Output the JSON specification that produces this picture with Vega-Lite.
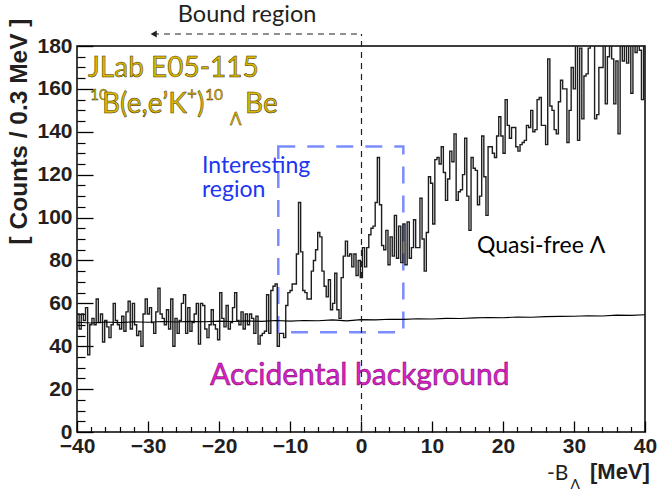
{
"$schema": "https://vega.github.io/schema/vega-lite/v6.json",
"width": 568, "height": 386,
"autosize": {"type": "none"},
"padding": {"left": 77, "top": 46, "right": 13, "bottom": 58},
"background": "white",
"config": {"view": {"stroke": "#000", "strokeWidth": 1.5}, "axis": {"grid": false}},
"datasets": {
"hist": [
{"x":-40,"c":55},{"x":-39.7,"c":48},{"x":-39.4,"c":55},{"x":-39.1,"c":52},{"x":-38.8,"c":58},{"x":-38.5,"c":36},{"x":-38.2,"c":50},{"x":-37.9,"c":53},{"x":-37.6,"c":50},{"x":-37.3,"c":62},
{"x":-37,"c":51},{"x":-36.7,"c":55},{"x":-36.4,"c":42},{"x":-36.1,"c":52},{"x":-35.8,"c":49},{"x":-35.5,"c":44},{"x":-35.2,"c":50},{"x":-34.9,"c":60},{"x":-34.6,"c":52},{"x":-34.3,"c":50},
{"x":-34,"c":48},{"x":-33.7,"c":54},{"x":-33.4,"c":47},{"x":-33.1,"c":56},{"x":-32.8,"c":61},{"x":-32.5,"c":48},{"x":-32.2,"c":60},{"x":-31.9,"c":50},{"x":-31.6,"c":45},{"x":-31.3,"c":47},
{"x":-31,"c":40},{"x":-30.7,"c":55},{"x":-30.4,"c":62},{"x":-30.1,"c":55},{"x":-29.8,"c":58},{"x":-29.5,"c":51},{"x":-29.2,"c":46},{"x":-28.9,"c":56},{"x":-28.6,"c":67},{"x":-28.3,"c":55},
{"x":-28,"c":53},{"x":-27.7,"c":50},{"x":-27.4,"c":57},{"x":-27.1,"c":48},{"x":-26.8,"c":62},{"x":-26.5,"c":40},{"x":-26.2,"c":53},{"x":-25.9,"c":46},{"x":-25.6,"c":52},{"x":-25.3,"c":60},
{"x":-25,"c":64},{"x":-24.7,"c":46},{"x":-24.4,"c":58},{"x":-24.1,"c":47},{"x":-23.8,"c":51},{"x":-23.5,"c":55},{"x":-23.2,"c":60},{"x":-22.9,"c":41},{"x":-22.6,"c":60},{"x":-22.3,"c":59},
{"x":-22,"c":48},{"x":-21.7,"c":44},{"x":-21.4,"c":50},{"x":-21.1,"c":57},{"x":-20.8,"c":50},{"x":-20.5,"c":48},{"x":-20.2,"c":43},{"x":-19.9,"c":65},{"x":-19.6,"c":53},{"x":-19.3,"c":49},
{"x":-19,"c":59},{"x":-18.7,"c":48},{"x":-18.4,"c":51},{"x":-18.1,"c":58},{"x":-17.8,"c":65},{"x":-17.5,"c":52},{"x":-17.2,"c":50},{"x":-16.9,"c":56},{"x":-16.6,"c":48},{"x":-16.3,"c":55},
{"x":-16,"c":50},{"x":-15.7,"c":55},{"x":-15.4,"c":53},{"x":-15.1,"c":46},{"x":-14.8,"c":54},{"x":-14.5,"c":41},{"x":-14.2,"c":45},{"x":-13.9,"c":46},{"x":-13.6,"c":47},{"x":-13.3,"c":64},
{"x":-13,"c":46},{"x":-12.7,"c":66},{"x":-12.4,"c":68},{"x":-12.1,"c":69},{"x":-11.8,"c":40},{"x":-11.5,"c":46},{"x":-11.2,"c":46},{"x":-10.9,"c":44},{"x":-10.6,"c":59},{"x":-10.3,"c":65},
{"x":-10,"c":66},{"x":-9.7,"c":69},{"x":-9.4,"c":69},{"x":-9.1,"c":83},{"x":-8.8,"c":107},{"x":-8.5,"c":84},{"x":-8.2,"c":66},{"x":-7.9,"c":65},{"x":-7.6,"c":62},{"x":-7.3,"c":62},
{"x":-7,"c":75},{"x":-6.7,"c":80},{"x":-6.4,"c":85},{"x":-6.1,"c":93},{"x":-5.8,"c":91},{"x":-5.5,"c":75},{"x":-5.2,"c":68},{"x":-4.9,"c":63},{"x":-4.6,"c":71},{"x":-4.3,"c":57},
{"x":-4,"c":60},{"x":-3.7,"c":74},{"x":-3.4,"c":57},{"x":-3.1,"c":53},{"x":-2.8,"c":72},{"x":-2.5,"c":82},{"x":-2.2,"c":89},{"x":-1.9,"c":82},{"x":-1.6,"c":83},{"x":-1.3,"c":77},
{"x":-1,"c":83},{"x":-0.7,"c":73},{"x":-0.4,"c":80},{"x":-0.1,"c":72},{"x":0.2,"c":86},{"x":0.5,"c":77},{"x":0.8,"c":86},{"x":1.1,"c":92},{"x":1.4,"c":95},{"x":1.7,"c":96},
{"x":2,"c":107},{"x":2.3,"c":128},{"x":2.6,"c":106},{"x":2.9,"c":87},{"x":3.2,"c":85},{"x":3.5,"c":94},{"x":3.8,"c":78},{"x":4.1,"c":91},{"x":4.4,"c":82},{"x":4.7,"c":101},
{"x":5,"c":81},{"x":5.3,"c":96},{"x":5.6,"c":79},{"x":5.9,"c":97},{"x":6.2,"c":78},{"x":6.5,"c":98},{"x":6.8,"c":81},{"x":7.1,"c":86},{"x":7.4,"c":99},{"x":7.7,"c":86},
{"x":8,"c":86},{"x":8.3,"c":109},{"x":8.6,"c":90},{"x":8.9,"c":75},{"x":9.2,"c":93},{"x":9.5,"c":119},{"x":9.8,"c":116},{"x":10.1,"c":97},{"x":10.4,"c":127},{"x":10.7,"c":128},
{"x":11,"c":125},{"x":11.3,"c":133},{"x":11.6,"c":121},{"x":11.9,"c":108},{"x":12.2,"c":118},{"x":12.5,"c":131},{"x":12.8,"c":126},{"x":13.1,"c":139},{"x":13.4,"c":108},{"x":13.7,"c":112},
{"x":14,"c":113},{"x":14.3,"c":120},{"x":14.6,"c":137},{"x":14.9,"c":110},{"x":15.2,"c":94},{"x":15.5,"c":128},{"x":15.8,"c":123},{"x":16.1,"c":122},{"x":16.4,"c":106},{"x":16.7,"c":110},
{"x":17,"c":138},{"x":17.3,"c":119},{"x":17.6,"c":101},{"x":17.9,"c":133},{"x":18.2,"c":133},{"x":18.5,"c":130},{"x":18.8,"c":128},{"x":19.1,"c":138},{"x":19.4,"c":147},{"x":19.7,"c":138},
{"x":20,"c":130},{"x":20.3,"c":155},{"x":20.6,"c":143},{"x":20.9,"c":137},{"x":21.2,"c":142},{"x":21.5,"c":142},{"x":21.8,"c":133},{"x":22.1,"c":131},{"x":22.4,"c":134},{"x":22.7,"c":135},
{"x":23,"c":136},{"x":23.3,"c":143},{"x":23.6,"c":142},{"x":23.9,"c":150},{"x":24.2,"c":140},{"x":24.5,"c":141},{"x":24.8,"c":155},{"x":25.1,"c":156},{"x":25.4,"c":143},{"x":25.7,"c":143},
{"x":26,"c":134},{"x":26.3,"c":174},{"x":26.6,"c":152},{"x":26.9,"c":150},{"x":27.2,"c":141},{"x":27.5,"c":139},{"x":27.8,"c":154},{"x":28.1,"c":164},{"x":28.4,"c":160},{"x":28.7,"c":160},
{"x":29,"c":135},{"x":29.3,"c":150},{"x":29.6,"c":170},{"x":29.9,"c":160},{"x":30.2,"c":190},{"x":30.5,"c":136},{"x":30.8,"c":179},{"x":31.1,"c":146},{"x":31.4,"c":166},{"x":31.7,"c":167},
{"x":32,"c":179},{"x":32.3,"c":190},{"x":32.6,"c":185},{"x":32.9,"c":146},{"x":33.2,"c":148},{"x":33.5,"c":170},{"x":33.8,"c":170},{"x":34.1,"c":190},{"x":34.4,"c":153},{"x":34.7,"c":175},
{"x":35,"c":190},{"x":35.3,"c":174},{"x":35.6,"c":153},{"x":35.9,"c":173},{"x":36.2,"c":139},{"x":36.5,"c":190},{"x":36.8,"c":173},{"x":37.1,"c":190},{"x":37.4,"c":172},{"x":37.7,"c":190},
{"x":38,"c":158},{"x":38.3,"c":190},{"x":38.6,"c":177},{"x":38.9,"c":190},{"x":39.2,"c":178},{"x":39.5,"c":155},{"x":39.8,"c":190},{"x":40.1,"c":190}
],
"bg": [
{"x":-40,"v":51.2},{"x":-38,"v":50.8},{"x":-36,"v":51.3},{"x":-34,"v":51.0},{"x":-32,"v":51.4},{"x":-30,"v":51.2},{"x":-28,"v":51.5},{"x":-26,"v":51.3},{"x":-24,"v":51.6},{"x":-22,"v":51.4},
{"x":-20,"v":51.7},{"x":-18,"v":51.5},{"x":-16,"v":51.8},{"x":-14,"v":51.6},{"x":-12,"v":52.0},{"x":-10,"v":51.7},{"x":-8,"v":52.0},{"x":-6,"v":51.9},{"x":-4,"v":52.3},{"x":-2,"v":51.8},
{"x":0,"v":52.4},{"x":2,"v":52.3},{"x":4,"v":52.6},{"x":6,"v":52.5},{"x":8,"v":52.8},{"x":10,"v":52.7},{"x":12,"v":53.0},{"x":14,"v":52.9},{"x":16,"v":53.2},{"x":18,"v":53.4},
{"x":20,"v":53.3},{"x":22,"v":53.6},{"x":24,"v":53.5},{"x":26,"v":53.8},{"x":28,"v":53.9},{"x":30,"v":54.0},{"x":32,"v":54.2},{"x":34,"v":54.1},{"x":36,"v":54.5},{"x":38,"v":54.4},{"x":40,"v":54.7}
]
},
"resolve": {"axis": {"x": "independent", "y": "independent"}},
"layer": [
{"data": {"values": [{}]},
 "mark": {"type": "rect", "fillOpacity": 0, "stroke": "#7b8cff", "strokeWidth": 2.5, "strokeDash": [17, 12]},
 "encoding": {
  "x": {"datum": -11.65, "type": "quantitative", "scale": {"domain": [-40, 40], "nice": false, "zero": false}, "axis": null},
  "x2": {"datum": 5.96},
  "y": {"datum": 46.5, "type": "quantitative", "scale": {"domain": [0, 180], "nice": false, "zero": false}, "axis": null},
  "y2": {"datum": 133.1}}},
{"data": {"name": "hist"},
 "mark": {"type": "line", "interpolate": "step-after", "color": "#1e1e1e", "strokeWidth": 1.4, "clip": true},
 "encoding": {
  "x": {"field": "x", "type": "quantitative", "scale": {"domain": [-40, 40], "nice": false, "zero": false},
        "axis": {"orient": "bottom", "values": [-40,-30,-20,-10,0,10,20,30,40], "format": "d", "ticks": true, "tickSize": 11, "offset": -11, "tickColor": "#000", "tickWidth": 1.3,
                 "domain": false, "grid": false, "title": null,
                 "labelFont": "Liberation Sans", "labelFontWeight": "bold", "labelFontSize": 21, "labelColor": "#231f20",
                 "labelPadding": 3, "labelFlush": false, "labelOverlap": false, "labelBound": false}},
  "y": {"field": "c", "type": "quantitative", "scale": {"domain": [0, 180], "nice": false, "zero": false},
        "axis": {"orient": "left", "values": [0,20,40,60,80,100,120,140,160,180], "format": "d", "ticks": true, "tickSize": 16, "offset": -16, "tickColor": "#000", "tickWidth": 1.3,
                 "domain": false, "grid": false,
                 "title": "[ Counts / 0.3 MeV ]", "titleFont": "Liberation Sans", "titleFontWeight": "bold", "titleFontSize": 24.5,
                 "titleColor": "#231f20", "titleAngle": -90, "titleX": -62, "titleY": -28, "titleAlign": "right", "titleBaseline": "bottom",
                 "labelFont": "Liberation Sans", "labelFontWeight": "bold", "labelFontSize": 21, "labelColor": "#231f20",
                 "labelPadding": 5, "labelFlush": false, "labelOverlap": false, "labelBound": false}}}},
{"data": {"name": "bg"},
 "mark": {"type": "line", "color": "#000", "strokeWidth": 1.1},
 "encoding": {
  "x": {"field": "x", "type": "quantitative", "scale": {"domain": [-40, 40], "nice": false, "zero": false},
        "axis": {"orient": "bottom", "values": [-38,-36,-34,-32,-28,-26,-24,-22,-18,-16,-14,-12,-8,-6,-4,-2,2,4,6,8,12,14,16,18,22,24,26,28,32,34,36,38],
                 "labels": false, "domain": false, "grid": false, "title": null, "tickColor": "#000", "tickWidth": 1.2, "tickSize": 5.5, "offset": -5.5}},
  "y": {"field": "v", "type": "quantitative", "scale": {"domain": [0, 180], "nice": false, "zero": false},
        "axis": {"orient": "left", "values": [5,10,15,25,30,35,45,50,55,65,70,75,85,90,95,105,110,115,125,130,135,145,150,155,165,170,175],
                 "labels": false, "domain": false, "grid": false, "title": null, "tickColor": "#000", "tickWidth": 1.2, "tickSize": 8, "offset": -8}}}},
{"data": {"values": [{}]},
 "mark": {"type": "rule", "color": "#231f20", "strokeWidth": 1.2, "strokeDash": [6, 5]},
 "encoding": {
  "x": {"datum": 0.07, "type": "quantitative", "scale": {"domain": [-40, 40], "nice": false, "zero": false}, "axis": null},
  "y": {"datum": 0, "type": "quantitative", "scale": {"domain": [0, 180], "nice": false, "zero": false}, "axis": null},
  "y2": {"datum": 185.6}}},
{"data": {"values": [{}]},
 "mark": {"type": "rule", "color": "#231f20", "strokeWidth": 1.2, "strokeDash": [6, 5]},
 "encoding": {
  "x": {"datum": -29.3, "type": "quantitative", "scale": {"domain": [-40, 40], "nice": false, "zero": false}, "axis": null},
  "x2": {"datum": 0.07},
  "y": {"datum": 185.6, "type": "quantitative", "scale": {"domain": [0, 180], "nice": false, "zero": false}, "axis": null}}},
{"data": {"values": [{}]},
 "mark": {"type": "point", "shape": "triangle-left", "filled": true, "color": "#231f20", "size": 50, "opacity": 1},
 "encoding": {
  "x": {"datum": -29.2, "type": "quantitative", "scale": {"domain": [-40, 40], "nice": false, "zero": false}, "axis": null},
  "y": {"datum": 185.6, "type": "quantitative", "scale": {"domain": [0, 180], "nice": false, "zero": false}, "axis": null}}},
{"data": {"values": [{}]},
 "mark": {"type": "text", "text": "Bound region", "align": "left", "baseline": "alphabetic", "font": "Lato", "fontSize": 23.5, "fill": "#231f20"},
 "encoding": {
  "x": {"datum": -25.8, "type": "quantitative", "scale": {"domain": [-40, 40], "nice": false, "zero": false}, "axis": null},
  "y": {"datum": 191.3, "type": "quantitative", "scale": {"domain": [0, 180], "nice": false, "zero": false}, "axis": null}}},
{"data": {"values": [{}]},
 "mark": {"type": "text", "text": "JLab E05-115", "align": "left", "baseline": "alphabetic", "font": "Lato", "fontSize": 28, "fill": "#dcb800", "stroke": "#3a2e00", "strokeWidth": 0.5},
 "encoding": {
  "x": {"datum": -38.45, "type": "quantitative", "scale": {"domain": [-40, 40], "nice": false, "zero": false}, "axis": null},
  "y": {"datum": 165.7, "type": "quantitative", "scale": {"domain": [0, 180], "nice": false, "zero": false}, "axis": null}}},
{"data": {"values": [{}]},
 "mark": {"type": "text", "text": "10", "align": "left", "baseline": "alphabetic", "font": "Lato", "fontSize": 15.5, "fill": "#dcb800", "stroke": "#3a2e00", "strokeWidth": 0.4},
 "encoding": {
  "x": {"datum": -38.17, "type": "quantitative", "scale": {"domain": [-40, 40], "nice": false, "zero": false}, "axis": null},
  "y": {"datum": 154.9, "type": "quantitative", "scale": {"domain": [0, 180], "nice": false, "zero": false}, "axis": null}}},
{"data": {"values": [{}]},
 "mark": {"type": "text", "text": "B(e,e’K", "align": "left", "baseline": "alphabetic", "font": "Lato", "fontSize": 28, "fill": "#dcb800", "stroke": "#3a2e00", "strokeWidth": 0.5},
 "encoding": {
  "x": {"datum": -36.48, "type": "quantitative", "scale": {"domain": [-40, 40], "nice": false, "zero": false}, "axis": null},
  "y": {"datum": 148.9, "type": "quantitative", "scale": {"domain": [0, 180], "nice": false, "zero": false}, "axis": null}}},
{"data": {"values": [{}]},
 "mark": {"type": "text", "text": "+", "align": "left", "baseline": "alphabetic", "font": "Lato", "fontSize": 17, "fill": "#dcb800", "stroke": "#3a2e00", "strokeWidth": 0.4},
 "encoding": {
  "x": {"datum": -24.5, "type": "quantitative", "scale": {"domain": [-40, 40], "nice": false, "zero": false}, "axis": null},
  "y": {"datum": 154.9, "type": "quantitative", "scale": {"domain": [0, 180], "nice": false, "zero": false}, "axis": null}}},
{"data": {"values": [{}]},
 "mark": {"type": "text", "text": ")", "align": "left", "baseline": "alphabetic", "font": "Lato", "fontSize": 28, "fill": "#dcb800", "stroke": "#3a2e00", "strokeWidth": 0.5},
 "encoding": {
  "x": {"datum": -23.1, "type": "quantitative", "scale": {"domain": [-40, 40], "nice": false, "zero": false}, "axis": null},
  "y": {"datum": 148.9, "type": "quantitative", "scale": {"domain": [0, 180], "nice": false, "zero": false}, "axis": null}}},
{"data": {"values": [{}]},
 "mark": {"type": "text", "text": "10", "align": "left", "baseline": "alphabetic", "font": "Lato", "fontSize": 15.5, "fill": "#dcb800", "stroke": "#3a2e00", "strokeWidth": 0.4},
 "encoding": {
  "x": {"datum": -21.97, "type": "quantitative", "scale": {"domain": [-40, 40], "nice": false, "zero": false}, "axis": null},
  "y": {"datum": 154.9, "type": "quantitative", "scale": {"domain": [0, 180], "nice": false, "zero": false}, "axis": null}}},
{"data": {"values": [{}]},
 "mark": {"type": "text", "text": "Λ", "align": "left", "baseline": "alphabetic", "font": "Lato", "fontSize": 17, "fill": "#dcb800", "stroke": "#3a2e00", "strokeWidth": 0.4},
 "encoding": {
  "x": {"datum": -18.45, "type": "quantitative", "scale": {"domain": [-40, 40], "nice": false, "zero": false}, "axis": null},
  "y": {"datum": 143.3, "type": "quantitative", "scale": {"domain": [0, 180], "nice": false, "zero": false}, "axis": null}}},
{"data": {"values": [{}]},
 "mark": {"type": "text", "text": "Be", "align": "left", "baseline": "alphabetic", "font": "Lato", "fontSize": 28, "fill": "#dcb800", "stroke": "#3a2e00", "strokeWidth": 0.5},
 "encoding": {
  "x": {"datum": -16.34, "type": "quantitative", "scale": {"domain": [-40, 40], "nice": false, "zero": false}, "axis": null},
  "y": {"datum": 148.9, "type": "quantitative", "scale": {"domain": [0, 180], "nice": false, "zero": false}, "axis": null}}},
{"data": {"values": [{}]},
 "mark": {"type": "text", "text": ["Interesting", "region"], "lineHeight": 24, "align": "left", "baseline": "alphabetic", "font": "Lato", "fontSize": 23, "fill": "#2036f0"},
 "encoding": {
  "x": {"datum": -22.4, "type": "quantitative", "scale": {"domain": [-40, 40], "nice": false, "zero": false}, "axis": null},
  "y": {"datum": 120.9, "type": "quantitative", "scale": {"domain": [0, 180], "nice": false, "zero": false}, "axis": null}}},
{"data": {"values": [{}]},
 "mark": {"type": "text", "text": "Quasi-free Λ", "align": "left", "baseline": "alphabetic", "font": "Lato", "fontSize": 23, "fill": "#000"},
 "encoding": {
  "x": {"datum": 16.34, "type": "quantitative", "scale": {"domain": [-40, 40], "nice": false, "zero": false}, "axis": null},
  "y": {"datum": 83.5, "type": "quantitative", "scale": {"domain": [0, 180], "nice": false, "zero": false}, "axis": null}}},
{"data": {"values": [{}]},
 "mark": {"type": "text", "text": "Accidental background", "align": "left", "baseline": "alphabetic", "font": "Lato", "fontSize": 30, "fill": "#e020c8", "stroke": "#6a0060", "strokeWidth": 0.5},
 "encoding": {
  "x": {"datum": -21.27, "type": "quantitative", "scale": {"domain": [-40, 40], "nice": false, "zero": false}, "axis": null},
  "y": {"datum": 21.9, "type": "quantitative", "scale": {"domain": [0, 180], "nice": false, "zero": false}, "axis": null}}},
{"data": {"values": [{}]},
 "mark": {"type": "text", "text": "-B", "align": "left", "baseline": "alphabetic", "font": "Lato", "fontSize": 21, "fill": "#231f20"},
 "encoding": {
  "x": {"datum": 26.2, "type": "quantitative", "scale": {"domain": [-40, 40], "nice": false, "zero": false}, "axis": null},
  "y": {"datum": -22.4, "type": "quantitative", "scale": {"domain": [0, 180], "nice": false, "zero": false}, "axis": null}}},
{"data": {"values": [{}]},
 "mark": {"type": "text", "text": "Λ", "align": "left", "baseline": "alphabetic", "font": "Lato", "fontSize": 14, "fill": "#231f20"},
 "encoding": {
  "x": {"datum": 29.5, "type": "quantitative", "scale": {"domain": [-40, 40], "nice": false, "zero": false}, "axis": null},
  "y": {"datum": -26.8, "type": "quantitative", "scale": {"domain": [0, 180], "nice": false, "zero": false}, "axis": null}}},
{"data": {"values": [{}]},
 "mark": {"type": "text", "text": "[MeV]", "align": "left", "baseline": "alphabetic", "font": "Liberation Sans", "fontWeight": "bold", "fontSize": 22, "fill": "#231f20"},
 "encoding": {
  "x": {"datum": 32.25, "type": "quantitative", "scale": {"domain": [-40, 40], "nice": false, "zero": false}, "axis": null},
  "y": {"datum": -21.9, "type": "quantitative", "scale": {"domain": [0, 180], "nice": false, "zero": false}, "axis": null}}}
]
}
